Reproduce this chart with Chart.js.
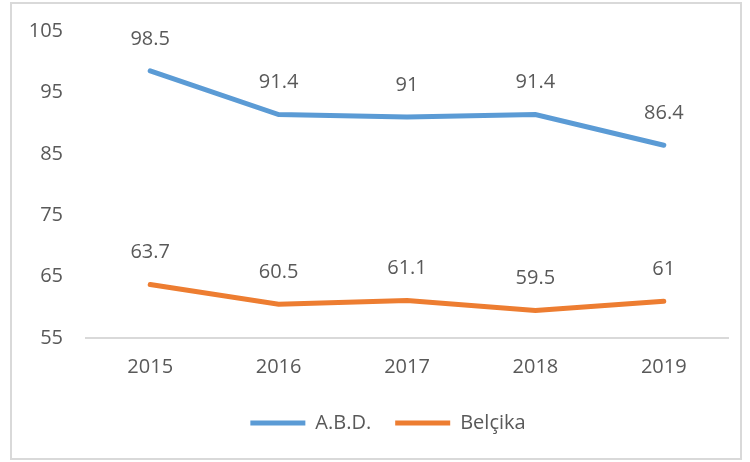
<!DOCTYPE html>
<html>
<head>
<meta charset="utf-8">
<script src="https://cdn.jsdelivr.net/npm/chart.js@4"></script>
<style>
  body { margin: 0; background: #fff; }
  #wrap { position: relative; width: 750px; height: 462px; }
  #frame { position: absolute; left: 10px; top: 2px; width: 728px; height: 454px; border: 2px solid #d9d9d9; pointer-events: none; }
</style>
</head>
<body>
<div id="wrap">
  <canvas id="myChart" width="750" height="462"></canvas>
  <div id="frame"></div>
</div>
<script>
// years on the x axis
const years = ["2015", "2016", "2017", "2018", "2019"];

// series values
const abd = [98.5, 91.4, 91, 91.4, 86.4];
const belcika = [63.7, 60.5, 61.1, 59.5, 61];

// y axis ticks
const yTicks = [55, 65, 75, 85, 95, 105];

const textColor = "#595959";
const fontFamily = "'Open Sans', sans-serif";

// draws the value above every point
const valueLabels = {
    id: "valueLabels",
    afterDatasetsDraw(chart) {
        const ctx = chart.ctx;
        ctx.save();
        ctx.fillStyle = textColor;
        ctx.font = "20px " + fontFamily;
        ctx.textAlign = "center";
        ctx.textBaseline = "middle";
        chart.data.datasets.forEach((ds, i) => {
            chart.getDatasetMeta(i).data.forEach((pt, j) => {
                ctx.fillText(String(ds.data[j]), pt.x, pt.y - 32);
            });
        });
        ctx.restore();
    }
};

// legend sits a bit right of centre in the original
const legendShift = {
    id: "legendShift",
    afterLayout(chart) {
        chart.legend.left += 14;
        chart.legend.right += 14;
    }
};

const myChart = document.getElementById("myChart");

let lineChart = new Chart(myChart, {
    type: "line",
    data: {
        labels: years,
        datasets: [
            {
                label: "A.B.D.",
                data: abd,
                borderColor: "#5B9BD5",
                backgroundColor: "#5B9BD5",
                borderWidth: 5,
                borderCapStyle: "round",
                pointRadius: 0,
                tension: 0
            },
            {
                label: "Belçika",
                data: belcika,
                borderColor: "#ED7D31",
                backgroundColor: "#ED7D31",
                borderWidth: 5,
                borderCapStyle: "round",
                pointRadius: 0,
                tension: 0
            }
        ]
    },
    options: {
        responsive: false,
        animation: false,
        layout: { padding: { left: 20, right: 22, top: 31, bottom: 19 } },
        plugins: {
            tooltip: { enabled: false },
            legend: {
                position: "bottom",
                labels: {
                    usePointStyle: true,
                    pointStyle: "line",
                    pointStyleWidth: 55,
                    padding: 24,
                    color: textColor,
                    font: { size: 20, family: fontFamily }
                }
            }
        },
        scales: {
            x: {
                offset: true,
                grid: { display: false, drawTicks: false },
                border: { display: true, color: "#d9d9d9", width: 2 },
                ticks: { color: textColor, padding: 17, font: { size: 20, family: fontFamily } },
                afterFit: s => { s.height = 51; }
            },
            y: {
                min: 55,
                max: 105,
                afterBuildTicks: s => { s.ticks = yTicks.map(v => ({ value: v })); },
                grid: { display: false, drawTicks: false },
                border: { display: false },
                ticks: { color: textColor, padding: 23, font: { size: 20, family: fontFamily } },
                afterFit: s => { s.width = 66; s.paddingTop = 0; s.paddingBottom = 0; }
            }
        }
    },
    plugins: [valueLabels, legendShift]
});
</script>
</body>
</html>
